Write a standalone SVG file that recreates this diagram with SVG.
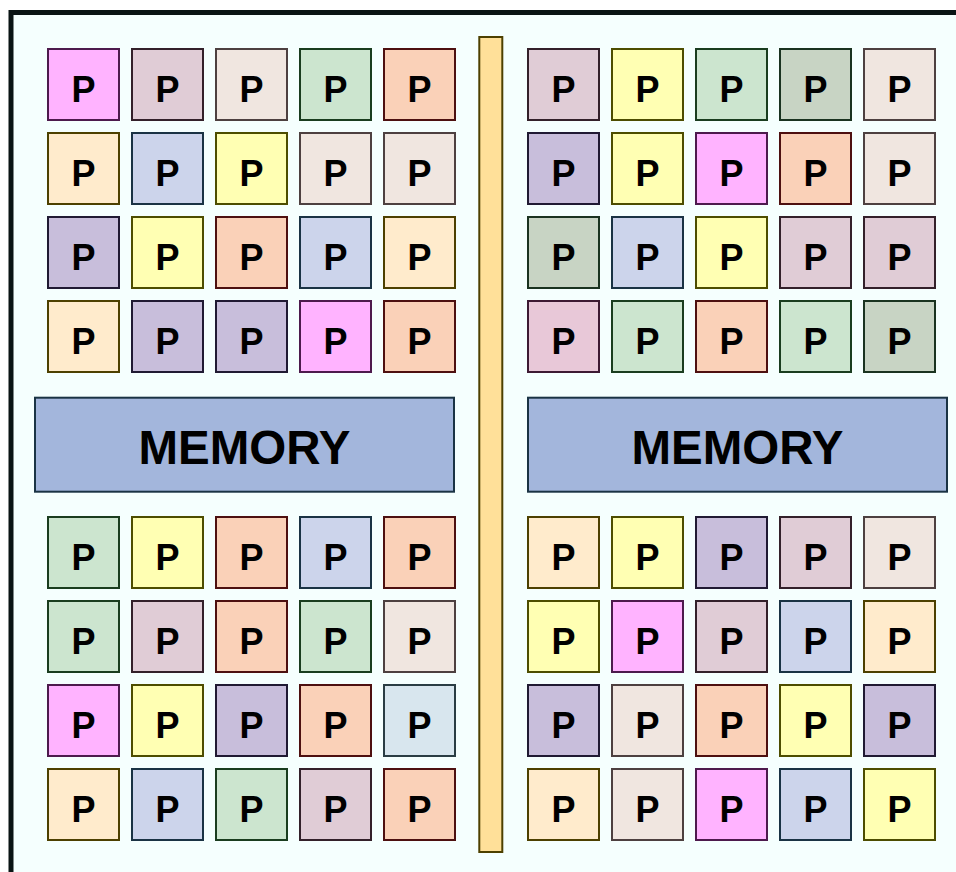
<svg xmlns="http://www.w3.org/2000/svg" width="956" height="872" viewBox="0 0 956 872">
<style>
.p rect{stroke-width:2}
.p text{font-family:"Liberation Sans",Arial,sans-serif;font-weight:bold;font-size:36px;text-anchor:middle;fill:#000}
.mem rect{fill:#a3b6dc;stroke:#1a3344;stroke-width:2}
.mem text{font-family:"Liberation Sans",Arial,sans-serif;font-weight:bold;font-size:47.5px;text-anchor:middle;fill:#000}
.mg{fill:#ffb3ff;stroke:#4d1a4d}
.mv{fill:#e0ccd6;stroke:#33202a}
.pl{fill:#f0e6e0;stroke:#4d4040}
.gr{fill:#cce5cf;stroke:#1a3d1f}
.sa{fill:#fad1b8;stroke:#4d1010}
.cr{fill:#ffebcc;stroke:#4d4000}
.lb{fill:#ccd4eb;stroke:#1a3344}
.ye{fill:#ffffb3;stroke:#4d4d00}
.pu{fill:#c8bedb;stroke:#201a33}
.gg{fill:#c8d4c4;stroke:#1a3320}
.pk{fill:#e8c8d8;stroke:#3d1a33}
.bl{fill:#d8e6ee;stroke:#2a3d44}
</style>
<rect x="0" y="0" width="956" height="872" fill="#ffffff"/>
<rect id="frame" x="11" y="12.5" width="960" height="880" fill="#f5fffe" stroke="#0a1414" stroke-width="5"/>
<g id="bus"><rect x="479.3" y="37" width="23" height="815" fill="#ffe099" stroke="#4d4000" stroke-width="2"/></g>
<g id="memory-left" class="mem"><rect x="35" y="397.7" width="419" height="94"/><text x="244.5" y="464">MEMORY</text></g>
<g id="memory-right" class="mem"><rect x="528" y="397.7" width="419" height="94"/><text x="737.5" y="464">MEMORY</text></g>
<g id="connectors"></g>
<!-- top-left -->
<g id="p-tl-1-1" class="p"><rect class="mg" x="48" y="49" width="71" height="71"/><text x="83.5" y="101.5">P</text></g>
<g id="p-tl-1-2" class="p"><rect class="mv" x="132" y="49" width="71" height="71"/><text x="167.5" y="101.5">P</text></g>
<g id="p-tl-1-3" class="p"><rect class="pl" x="216" y="49" width="71" height="71"/><text x="251.5" y="101.5">P</text></g>
<g id="p-tl-1-4" class="p"><rect class="gr" x="300" y="49" width="71" height="71"/><text x="335.5" y="101.5">P</text></g>
<g id="p-tl-1-5" class="p"><rect class="sa" x="384" y="49" width="71" height="71"/><text x="419.5" y="101.5">P</text></g>
<g id="p-tl-2-1" class="p"><rect class="cr" x="48" y="133" width="71" height="71"/><text x="83.5" y="185.5">P</text></g>
<g id="p-tl-2-2" class="p"><rect class="lb" x="132" y="133" width="71" height="71"/><text x="167.5" y="185.5">P</text></g>
<g id="p-tl-2-3" class="p"><rect class="ye" x="216" y="133" width="71" height="71"/><text x="251.5" y="185.5">P</text></g>
<g id="p-tl-2-4" class="p"><rect class="pl" x="300" y="133" width="71" height="71"/><text x="335.5" y="185.5">P</text></g>
<g id="p-tl-2-5" class="p"><rect class="pl" x="384" y="133" width="71" height="71"/><text x="419.5" y="185.5">P</text></g>
<g id="p-tl-3-1" class="p"><rect class="pu" x="48" y="217" width="71" height="71"/><text x="83.5" y="269.5">P</text></g>
<g id="p-tl-3-2" class="p"><rect class="ye" x="132" y="217" width="71" height="71"/><text x="167.5" y="269.5">P</text></g>
<g id="p-tl-3-3" class="p"><rect class="sa" x="216" y="217" width="71" height="71"/><text x="251.5" y="269.5">P</text></g>
<g id="p-tl-3-4" class="p"><rect class="lb" x="300" y="217" width="71" height="71"/><text x="335.5" y="269.5">P</text></g>
<g id="p-tl-3-5" class="p"><rect class="cr" x="384" y="217" width="71" height="71"/><text x="419.5" y="269.5">P</text></g>
<g id="p-tl-4-1" class="p"><rect class="cr" x="48" y="301" width="71" height="71"/><text x="83.5" y="353.5">P</text></g>
<g id="p-tl-4-2" class="p"><rect class="pu" x="132" y="301" width="71" height="71"/><text x="167.5" y="353.5">P</text></g>
<g id="p-tl-4-3" class="p"><rect class="pu" x="216" y="301" width="71" height="71"/><text x="251.5" y="353.5">P</text></g>
<g id="p-tl-4-4" class="p"><rect class="mg" x="300" y="301" width="71" height="71"/><text x="335.5" y="353.5">P</text></g>
<g id="p-tl-4-5" class="p"><rect class="sa" x="384" y="301" width="71" height="71"/><text x="419.5" y="353.5">P</text></g>
<!-- top-right -->
<g id="p-tr-1-1" class="p"><rect class="mv" x="528" y="49" width="71" height="71"/><text x="563.5" y="101.5">P</text></g>
<g id="p-tr-1-2" class="p"><rect class="ye" x="612" y="49" width="71" height="71"/><text x="647.5" y="101.5">P</text></g>
<g id="p-tr-1-3" class="p"><rect class="gr" x="696" y="49" width="71" height="71"/><text x="731.5" y="101.5">P</text></g>
<g id="p-tr-1-4" class="p"><rect class="gg" x="780" y="49" width="71" height="71"/><text x="815.5" y="101.5">P</text></g>
<g id="p-tr-1-5" class="p"><rect class="pl" x="864" y="49" width="71" height="71"/><text x="899.5" y="101.5">P</text></g>
<g id="p-tr-2-1" class="p"><rect class="pu" x="528" y="133" width="71" height="71"/><text x="563.5" y="185.5">P</text></g>
<g id="p-tr-2-2" class="p"><rect class="ye" x="612" y="133" width="71" height="71"/><text x="647.5" y="185.5">P</text></g>
<g id="p-tr-2-3" class="p"><rect class="mg" x="696" y="133" width="71" height="71"/><text x="731.5" y="185.5">P</text></g>
<g id="p-tr-2-4" class="p"><rect class="sa" x="780" y="133" width="71" height="71"/><text x="815.5" y="185.5">P</text></g>
<g id="p-tr-2-5" class="p"><rect class="pl" x="864" y="133" width="71" height="71"/><text x="899.5" y="185.5">P</text></g>
<g id="p-tr-3-1" class="p"><rect class="gg" x="528" y="217" width="71" height="71"/><text x="563.5" y="269.5">P</text></g>
<g id="p-tr-3-2" class="p"><rect class="lb" x="612" y="217" width="71" height="71"/><text x="647.5" y="269.5">P</text></g>
<g id="p-tr-3-3" class="p"><rect class="ye" x="696" y="217" width="71" height="71"/><text x="731.5" y="269.5">P</text></g>
<g id="p-tr-3-4" class="p"><rect class="mv" x="780" y="217" width="71" height="71"/><text x="815.5" y="269.5">P</text></g>
<g id="p-tr-3-5" class="p"><rect class="mv" x="864" y="217" width="71" height="71"/><text x="899.5" y="269.5">P</text></g>
<g id="p-tr-4-1" class="p"><rect class="pk" x="528" y="301" width="71" height="71"/><text x="563.5" y="353.5">P</text></g>
<g id="p-tr-4-2" class="p"><rect class="gr" x="612" y="301" width="71" height="71"/><text x="647.5" y="353.5">P</text></g>
<g id="p-tr-4-3" class="p"><rect class="sa" x="696" y="301" width="71" height="71"/><text x="731.5" y="353.5">P</text></g>
<g id="p-tr-4-4" class="p"><rect class="gr" x="780" y="301" width="71" height="71"/><text x="815.5" y="353.5">P</text></g>
<g id="p-tr-4-5" class="p"><rect class="gg" x="864" y="301" width="71" height="71"/><text x="899.5" y="353.5">P</text></g>
<!-- bottom-left -->
<g id="p-bl-1-1" class="p"><rect class="gr" x="48" y="517" width="71" height="71"/><text x="83.5" y="569.5">P</text></g>
<g id="p-bl-1-2" class="p"><rect class="ye" x="132" y="517" width="71" height="71"/><text x="167.5" y="569.5">P</text></g>
<g id="p-bl-1-3" class="p"><rect class="sa" x="216" y="517" width="71" height="71"/><text x="251.5" y="569.5">P</text></g>
<g id="p-bl-1-4" class="p"><rect class="lb" x="300" y="517" width="71" height="71"/><text x="335.5" y="569.5">P</text></g>
<g id="p-bl-1-5" class="p"><rect class="sa" x="384" y="517" width="71" height="71"/><text x="419.5" y="569.5">P</text></g>
<g id="p-bl-2-1" class="p"><rect class="gr" x="48" y="601" width="71" height="71"/><text x="83.5" y="653.5">P</text></g>
<g id="p-bl-2-2" class="p"><rect class="mv" x="132" y="601" width="71" height="71"/><text x="167.5" y="653.5">P</text></g>
<g id="p-bl-2-3" class="p"><rect class="sa" x="216" y="601" width="71" height="71"/><text x="251.5" y="653.5">P</text></g>
<g id="p-bl-2-4" class="p"><rect class="gr" x="300" y="601" width="71" height="71"/><text x="335.5" y="653.5">P</text></g>
<g id="p-bl-2-5" class="p"><rect class="pl" x="384" y="601" width="71" height="71"/><text x="419.5" y="653.5">P</text></g>
<g id="p-bl-3-1" class="p"><rect class="mg" x="48" y="685" width="71" height="71"/><text x="83.5" y="737.5">P</text></g>
<g id="p-bl-3-2" class="p"><rect class="ye" x="132" y="685" width="71" height="71"/><text x="167.5" y="737.5">P</text></g>
<g id="p-bl-3-3" class="p"><rect class="pu" x="216" y="685" width="71" height="71"/><text x="251.5" y="737.5">P</text></g>
<g id="p-bl-3-4" class="p"><rect class="sa" x="300" y="685" width="71" height="71"/><text x="335.5" y="737.5">P</text></g>
<g id="p-bl-3-5" class="p"><rect class="bl" x="384" y="685" width="71" height="71"/><text x="419.5" y="737.5">P</text></g>
<g id="p-bl-4-1" class="p"><rect class="cr" x="48" y="769" width="71" height="71"/><text x="83.5" y="821.5">P</text></g>
<g id="p-bl-4-2" class="p"><rect class="lb" x="132" y="769" width="71" height="71"/><text x="167.5" y="821.5">P</text></g>
<g id="p-bl-4-3" class="p"><rect class="gr" x="216" y="769" width="71" height="71"/><text x="251.5" y="821.5">P</text></g>
<g id="p-bl-4-4" class="p"><rect class="mv" x="300" y="769" width="71" height="71"/><text x="335.5" y="821.5">P</text></g>
<g id="p-bl-4-5" class="p"><rect class="sa" x="384" y="769" width="71" height="71"/><text x="419.5" y="821.5">P</text></g>
<!-- bottom-right -->
<g id="p-br-1-1" class="p"><rect class="cr" x="528" y="517" width="71" height="71"/><text x="563.5" y="569.5">P</text></g>
<g id="p-br-1-2" class="p"><rect class="ye" x="612" y="517" width="71" height="71"/><text x="647.5" y="569.5">P</text></g>
<g id="p-br-1-3" class="p"><rect class="pu" x="696" y="517" width="71" height="71"/><text x="731.5" y="569.5">P</text></g>
<g id="p-br-1-4" class="p"><rect class="mv" x="780" y="517" width="71" height="71"/><text x="815.5" y="569.5">P</text></g>
<g id="p-br-1-5" class="p"><rect class="pl" x="864" y="517" width="71" height="71"/><text x="899.5" y="569.5">P</text></g>
<g id="p-br-2-1" class="p"><rect class="ye" x="528" y="601" width="71" height="71"/><text x="563.5" y="653.5">P</text></g>
<g id="p-br-2-2" class="p"><rect class="mg" x="612" y="601" width="71" height="71"/><text x="647.5" y="653.5">P</text></g>
<g id="p-br-2-3" class="p"><rect class="mv" x="696" y="601" width="71" height="71"/><text x="731.5" y="653.5">P</text></g>
<g id="p-br-2-4" class="p"><rect class="lb" x="780" y="601" width="71" height="71"/><text x="815.5" y="653.5">P</text></g>
<g id="p-br-2-5" class="p"><rect class="cr" x="864" y="601" width="71" height="71"/><text x="899.5" y="653.5">P</text></g>
<g id="p-br-3-1" class="p"><rect class="pu" x="528" y="685" width="71" height="71"/><text x="563.5" y="737.5">P</text></g>
<g id="p-br-3-2" class="p"><rect class="pl" x="612" y="685" width="71" height="71"/><text x="647.5" y="737.5">P</text></g>
<g id="p-br-3-3" class="p"><rect class="sa" x="696" y="685" width="71" height="71"/><text x="731.5" y="737.5">P</text></g>
<g id="p-br-3-4" class="p"><rect class="ye" x="780" y="685" width="71" height="71"/><text x="815.5" y="737.5">P</text></g>
<g id="p-br-3-5" class="p"><rect class="pu" x="864" y="685" width="71" height="71"/><text x="899.5" y="737.5">P</text></g>
<g id="p-br-4-1" class="p"><rect class="cr" x="528" y="769" width="71" height="71"/><text x="563.5" y="821.5">P</text></g>
<g id="p-br-4-2" class="p"><rect class="pl" x="612" y="769" width="71" height="71"/><text x="647.5" y="821.5">P</text></g>
<g id="p-br-4-3" class="p"><rect class="mg" x="696" y="769" width="71" height="71"/><text x="731.5" y="821.5">P</text></g>
<g id="p-br-4-4" class="p"><rect class="lb" x="780" y="769" width="71" height="71"/><text x="815.5" y="821.5">P</text></g>
<g id="p-br-4-5" class="p"><rect class="ye" x="864" y="769" width="71" height="71"/><text x="899.5" y="821.5">P</text></g>
</svg>
